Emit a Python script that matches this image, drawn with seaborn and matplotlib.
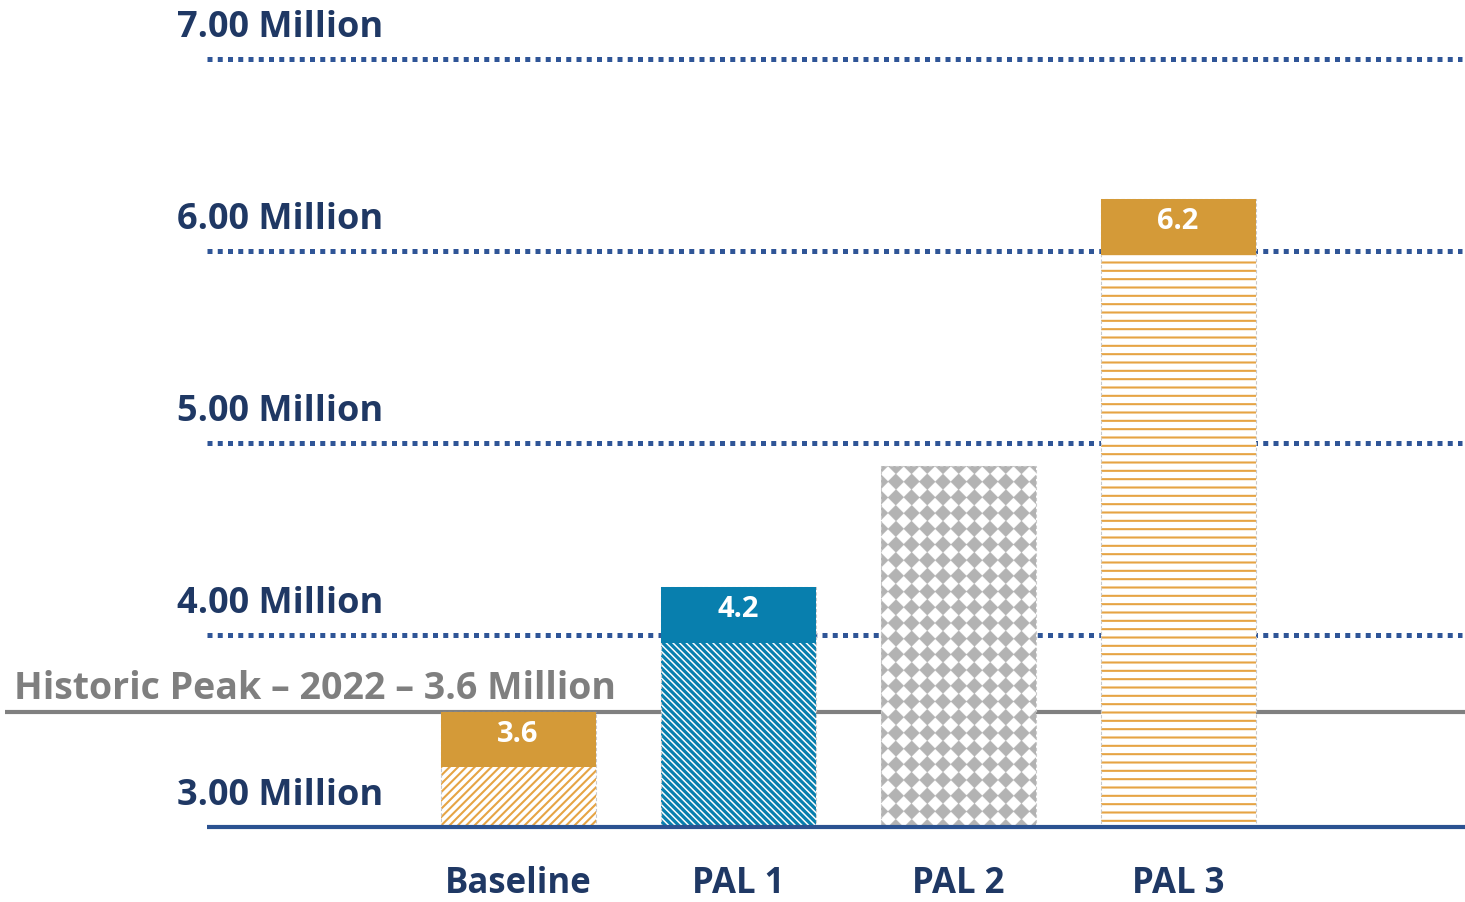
import numpy as np
import pandas as pd
import matplotlib
matplotlib.use('Agg')
import matplotlib.pyplot as plt
import seaborn as sns

# ─────────────────────────────────────────────
# Data (million passengers)
# ─────────────────────────────────────────────
categories = ['Baseline', 'PAL 1', 'PAL 2', 'PAL 3']
values = [3.6, 4.25, 4.88, 6.27]
cap_labels = ['3.6', '4.2', '', '6.2']
cap_size = 0.29

ytick_values = [3.0, 4.0, 5.0, 6.0, 7.0]
ytick_labels = ['3.00 Million', '4.00 Million', '5.00 Million', '6.00 Million', '7.00 Million']

historic_peak = 3.6
historic_label = 'Historic Peak \u2013 2022 \u2013 3.6 Million'

# styles
NAVY = '#1f3864'
DOT = '#2f5597'
LINE_NAVY = '#2b5291'
ORANGE = '#d49a38'
ORANGE_HATCH = '#e6a444'
BLUE = '#087fae'
GRAY_LINE = '#808080'
GRAY_TEXT = '#7f7f7f'
DIAMOND = '#b4b4b4'

hatches = ['////', '\\' * 5, None, '--']
hatch_colors = [ORANGE_HATCH, BLUE, None, ORANGE_HATCH]
hatch_widths = [1.5, 2.3, 1.0, 1.5]
cap_colors = [ORANGE, BLUE, None, ORANGE]

sns.set_theme(style='white')
plt.rcParams['font.family'] = ['Open Sans', 'DejaVu Sans']
plt.rcParams['hatch.linewidth'] = 1.5

W, H = 1465, 903
fig = plt.figure(figsize=(W / 100, H / 100), dpi=100)
ax_bottom_px = 830
ax = fig.add_axes([0, (H - ax_bottom_px) / H, 1, ax_bottom_px / H])

# pixel mapping: first bar centred at 518 px, 220 px per category; 192 px per million
x_unit, x0_px = 220, 518
y_unit, y3_px = 192, 828
xlim = (-x0_px / x_unit, (W - x0_px) / x_unit)
ylim = (3.0 - (ax_bottom_px - y3_px) / y_unit, 3.0 + y3_px / y_unit)

df = pd.DataFrame({'scenario': categories, 'value': values})
sns.barplot(data=df, x='scenario', y='value', ax=ax, width=155 / x_unit,
            color='white', saturation=1, linewidth=0, zorder=2)
bars = list(ax.patches)

for p, h, hc, hw in zip(bars, hatches, hatch_colors, hatch_widths):
    if h is None:
        continue
    p.set_hatch(h)
    p.set_edgecolor(hc)
    p.set_linewidth(0)
    if hasattr(p, 'set_hatch_linewidth'):
        p.set_hatch_linewidth(hw)

ax.set_xlim(xlim)
ax.set_ylim(ylim)

# diamond (rotated checker) texture for PAL 2
p2 = bars[2]
bx, bw = p2.get_x(), p2.get_width()
y_lo, y_hi = ylim[0], values[2]
ss = 2
nx = int(round(bw * x_unit * ss))
ny = int(round((y_hi - y_lo) * y_unit * ss))
period = 15.7 * ss
jj, ii = np.meshgrid(np.arange(nx) + 0.5, np.arange(ny) + 0.5)
dx = np.mod(jj - 0.45 * period, period) - period / 2
dy = np.mod(ii - 0.5 * period, period) - period / 2
inside = (np.abs(dx) + np.abs(dy)) < 0.52 * period
img = np.ones((ny, nx, 3))
img[inside] = matplotlib.colors.to_rgb(DIAMOND)
im = ax.imshow(img, extent=[bx, bx + bw, y_lo, y_hi], origin='upper',
               interpolation='antialiased', aspect='auto', zorder=2.5)
im.set_clip_path(p2)

# faint outlines
for p in bars:
    ax.add_patch(plt.Rectangle((p.get_x(), ylim[0]), p.get_width(), p.get_height() - ylim[0],
                               fill=False, edgecolor='#c9c9c9', lw=0.8, ls=(0, (3, 2)), zorder=2.6))

# coloured caps with value labels
for p, v, lab, cc in zip(bars, values, cap_labels, cap_colors):
    if cc is None:
        continue
    ax.bar(p.get_x() + p.get_width() / 2, cap_size, bottom=v - cap_size,
           width=p.get_width(), color=cc, linewidth=0, zorder=3)
    ax.text(p.get_x() + p.get_width() / 2, v - cap_size / 2 + 6 / y_unit, lab, ha='center',
            va='center', color='white', fontsize=21, fontweight='bold', zorder=5)

# gridlines + labels
ytr = ax.get_yaxis_transform()
for val, lab in zip(ytick_values, ytick_labels):
    if val == ytick_values[0]:
        ax.plot([207 / W, 1.0], [val, val], transform=ytr, color=LINE_NAVY, lw=3,
                solid_capstyle='butt', zorder=4, clip_on=False)
    else:
        ax.plot([207 / W, 1462 / W], [val, val], transform=ytr, color=DOT, lw=3.6,
                ls=(0, (1, 1.05)), dash_capstyle='butt', zorder=1)
    ax.text(177 / W, val + 23 / y_unit, lab, transform=ytr, ha='left', va='baseline',
            color=NAVY, fontsize=26, fontweight='bold')

# historic peak
ax.plot([5 / W, 1.0], [historic_peak, historic_peak], transform=ytr, color=GRAY_LINE,
        lw=3, solid_capstyle='butt', zorder=1.5)
ax.text(14 / W, historic_peak + 14 / y_unit, historic_label, transform=ytr, ha='left',
        va='baseline', color=GRAY_TEXT, fontsize=27, fontweight='bold')

ax.set_xticks(range(len(categories)))
ax.set_xticklabels(categories, fontsize=25, fontweight='bold', color=NAVY)
ax.tick_params(axis='x', length=0, pad=26)
ax.set_yticks([])
ax.set_xlabel('')
ax.set_ylabel('')
sns.despine(ax=ax, left=True, bottom=True)

fig.savefig('out.png', dpi=100)
